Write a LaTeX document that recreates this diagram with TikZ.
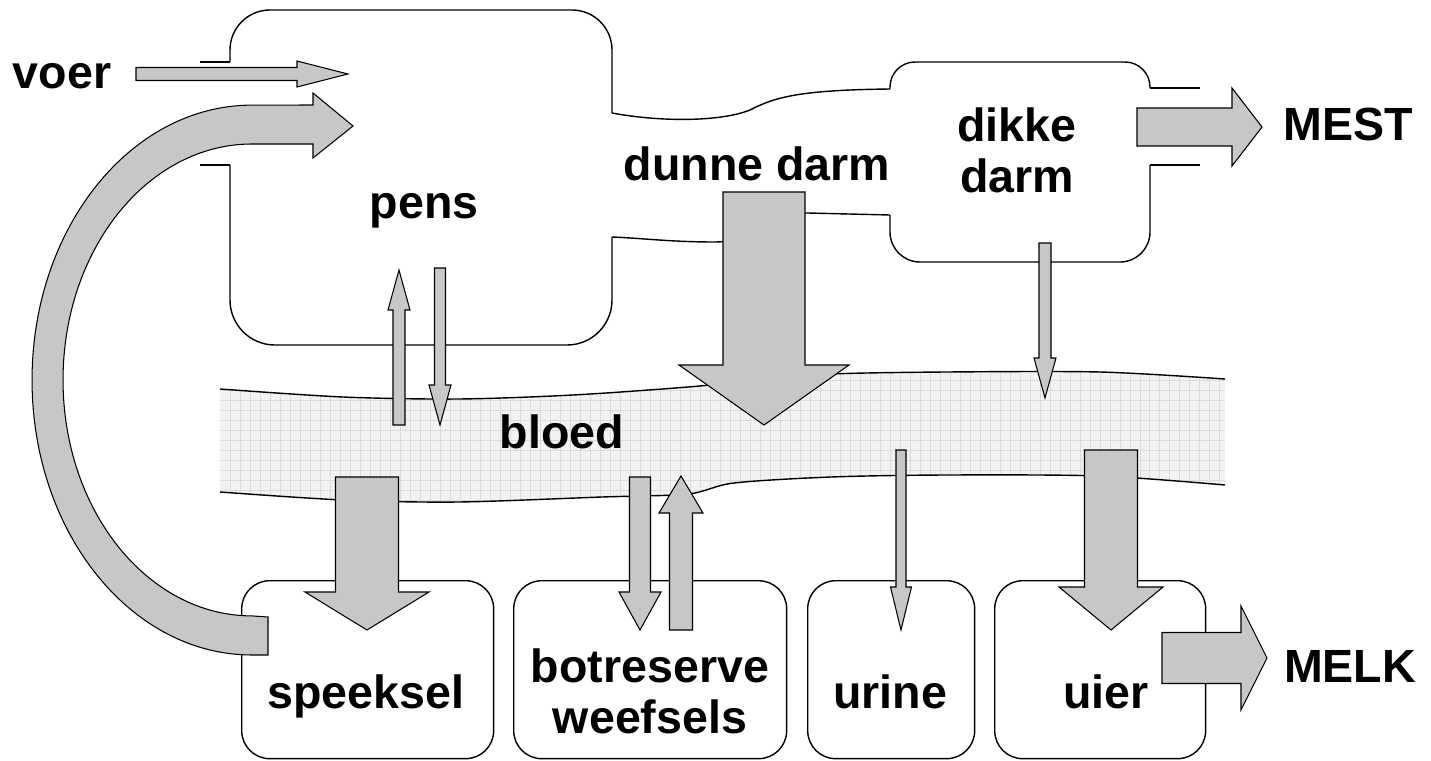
\documentclass[tikz,border=0pt]{standalone}
\usepackage{fontspec}
\setmainfont{Liberation Sans}
\usetikzlibrary{calc}

% fat block arrow: from, tip, half shaft, half head, head length
\newcommand{\fatarrow}[5]{%
  \coordinate (hb) at ($(#2)!#5!(#1)$);
  \filldraw[flow] ($(#1)!#3!90:(#2)$) -- ($(hb)!#3!90:(#2)$) -- ($(hb)!#4!90:(#2)$)
    -- (#2) -- ($(hb)!#4!-90:(#2)$) -- ($(hb)!#3!-90:(#2)$) -- ($(#1)!#3!-90:(#2)$) -- cycle;
}

\begin{document}
\begin{tikzpicture}[x=0.02cm, y=-0.02cm,
  wall/.style={draw, line width=0.8pt},
  vak/.style={draw, line width=0.8pt, rounded corners=0.56cm, anchor=north west, inner sep=0pt},
  flow/.style={draw, line width=0.6pt, fill=black!22, line join=miter},
  txt/.style={font=\bfseries\fontsize{26.5}{29}\selectfont, anchor=base, align=center, inner sep=0pt},
  gridline/.style={draw=black!14, line width=0.3pt}
]
\useasboundingbox (0,0) rectangle (1431,761);

% bloed
\fill[black!5] plot[smooth] coordinates {(220,389) (343,397) (458,399) (573,395) (688,387) (760,380) (831,374) (946,372) (1100,372) (1225,379)}
  -- plot[smooth] coordinates {(1225,485) (1100,476) (946,475) (831,477) (734,483) (688,494) (602,497) (458,502) (343,500) (220,492)} -- cycle;
\begin{scope}
\clip plot[smooth] coordinates {(220,389) (343,397) (458,399) (573,395) (688,387) (760,380) (831,374) (946,372) (1100,372) (1225,379)}
  -- plot[smooth] coordinates {(1225,485) (1100,476) (946,475) (831,477) (734,483) (688,494) (602,497) (458,502) (343,500) (220,492)} -- cycle;
\draw[gridline] (220,510) grid[step=0.2cm] (1230,360);
\end{scope}
\draw[wall] plot[smooth] coordinates {(220,389) (343,397) (458,399) (573,395) (688,387) (760,380) (831,374) (946,372) (1100,372) (1225,379)};
\draw[wall] plot[smooth] coordinates {(220,492) (343,500) (458,502) (602,497) (688,494) (734,483) (831,477) (946,475) (1100,476) (1225,485)};

% pens, dunne darm, dikke darm
\draw[wall] (200,62) -- (230,62);
\draw[wall, rounded corners=0.8cm] (230,62) -- (230,10) -- (612,10) -- (612,113);
\draw[wall] (612,113) .. controls (660,122) and (720,122) .. (750,110) .. controls (775,97) and (800,90) .. (890,89);
\draw[wall, rounded corners=0.5cm] (890,89) -- (890,62) -- (1150,62) -- (1150,88);
\draw[wall] (1150,88) -- (1200,88);
\draw[wall] (1150,165) -- (1200,165);
\draw[wall, rounded corners=0.6cm] (1150,165) -- (1150,262) -- (890,262) -- (890,215);
\draw[wall] (890,215) -- (808,213) .. controls (770,212) and (755,242) .. (715,242) .. controls (670,242) and (640,238) .. (612,237);
\draw[wall, rounded corners=0.9cm] (612,237) -- (612,345) -- (230,345) -- (230,165);
\draw[wall] (230,165) -- (200,165);

% compartments below
\node[vak, minimum width=5.04cm, minimum height=3.56cm] (speekselbox) at (241,580) {};
\node[vak, minimum width=5.46cm, minimum height=3.56cm] (botbox) at (513,580) {};
\node[vak, minimum width=3.34cm, minimum height=3.56cm] (urinebox) at (807,580) {};
\node[vak, minimum width=4.22cm, minimum height=3.56cm] (uierbox) at (994,580) {};

% arrow ends
\coordinate (voer-out) at (136,74);
\coordinate (pens-voer) at (348,74);
\coordinate (spk-out) at (268,636);
\coordinate (pens-spk) at (353,126);
\coordinate (dikke-out) at (1137,127);
\coordinate (mest-in) at (1262,127);
\coordinate (bl-pens) at (399,425);
\coordinate (pens-bl) at (399,270);
\coordinate (pens-out) at (440,268);
\coordinate (bl-pens-in) at (440,425);
\coordinate (dunne-out) at (764,192);
\coordinate (bl-dunne) at (764,425);
\coordinate (dikke-down) at (1045,243);
\coordinate (bl-dikke) at (1045,398);
\coordinate (bl-spk) at (367,477);
\coordinate (spk-in) at (367,630);
\coordinate (bl-bot) at (640,477);
\coordinate (bot-in) at (640,630);
\coordinate (bot-out) at (681,630);
\coordinate (bl-bot-in) at (681,476);
\coordinate (bl-urine) at (901,450);
\coordinate (urine-in) at (901,630);
\coordinate (bl-uier) at (1111,450);
\coordinate (uier-in) at (1111,630);
\coordinate (uier-out) at (1162,658);
\coordinate (melk-in) at (1267,658);

\fatarrow{voer-out}{pens-voer}{0.13cm}{0.26cm}{1.02cm}
\fatarrow{dikke-out}{mest-in}{0.38cm}{0.78cm}{0.6cm}
\fatarrow{bl-pens}{pens-bl}{0.12cm}{0.22cm}{0.8cm}
\fatarrow{pens-out}{bl-pens-in}{0.11cm}{0.22cm}{0.8cm}
\fatarrow{dunne-out}{bl-dunne}{0.82cm}{1.7cm}{1.2cm}
\fatarrow{dikke-down}{bl-dikke}{0.12cm}{0.22cm}{0.8cm}
\fatarrow{bl-spk}{spk-in}{0.63cm}{1.24cm}{0.76cm}
\fatarrow{bl-bot}{bot-in}{0.21cm}{0.42cm}{0.76cm}
\fatarrow{bot-out}{bl-bot-in}{0.23cm}{0.44cm}{0.74cm}
\fatarrow{bl-urine}{urine-in}{0.1cm}{0.21cm}{0.86cm}
\fatarrow{bl-uier}{uier-in}{0.53cm}{1.04cm}{0.86cm}
\fatarrow{uier-out}{melk-in}{0.51cm}{1.04cm}{0.52cm}

% speeksel back to pens
\filldraw[flow] ($(spk-out)+(0,19)$) -- ++(-16,0)
  arc[start angle=270, end angle=90, x radius=4.4cm, y radius=5.5cm]
  -- ($(pens-spk)+(-40,-21)$) -- ++(0,-12) -- (pens-spk) -- ++(-40,32) -- ++(0,-14) -- ++(-61,0)
  arc[start angle=90, end angle=270, x radius=3.78cm, y radius=4.72cm]
  -- ($(spk-out)+(0,-19)$) -- cycle;

% labels
\node[txt] (voer) at (62,88) {voer};
\node[txt] (pens) at (424,218) {pens};
\node[txt] (dunne) at (757,180) {dunne darm};
\node[txt] (dikke) at (1017,192) {dikke\\darm};
\node[txt] (mest) at (1348,140) {MEST};
\node[txt] (bloed) at (562,448) {bloed};
\node[txt] (speeksel) at (366,708) {speeksel};
\node[txt] (botreserve) at (650,733) {botreserve\\weefsels};
\node[txt] (urine) at (890,708) {urine};
\node[txt] (uier) at (1106,708) {uier};
\node[txt] (melk) at (1350,682) {MELK};
\end{tikzpicture}
\end{document}
